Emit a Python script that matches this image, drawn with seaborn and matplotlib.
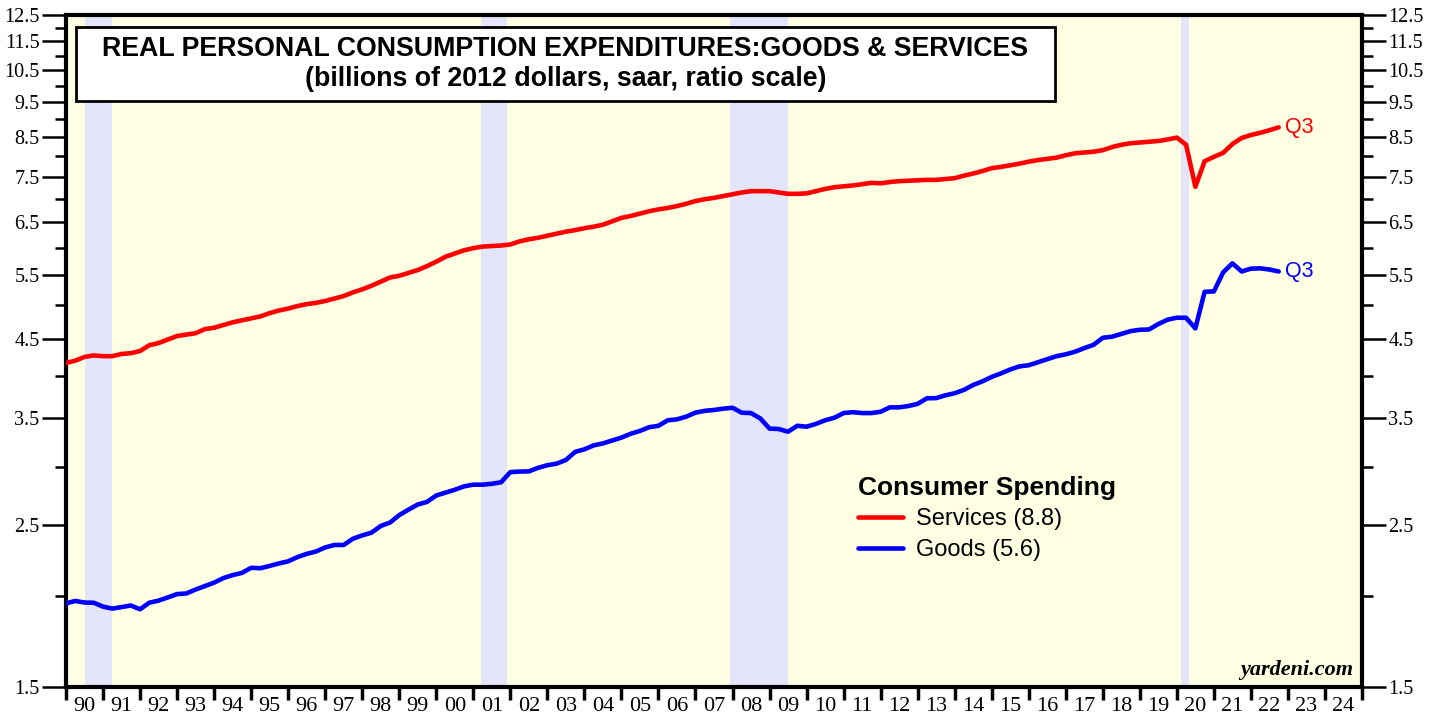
import numpy as np
import pandas as pd
import matplotlib
matplotlib.use("Agg")
import matplotlib.pyplot as plt
import matplotlib.patches as mpatches
from matplotlib.ticker import FixedLocator, NullFormatter, FixedFormatter
import seaborn as sns

# ---------------- data (trillions of 2012 dollars, quarterly, 1990.00 .. 2022.75) ----------------
start_year = 1990.0
services = [
    4.17, 4.20, 4.25, 4.27, 4.26, 4.26, 4.29, 4.30,
    4.33, 4.41, 4.44, 4.49, 4.54, 4.56, 4.58, 4.64,
    4.66, 4.70, 4.74, 4.77, 4.80, 4.83, 4.88, 4.92,
    4.95, 4.99, 5.02, 5.04, 5.07, 5.11, 5.15, 5.21,
    5.26, 5.32, 5.39, 5.46, 5.49, 5.54, 5.59, 5.66,
    5.74, 5.83, 5.89, 5.95, 5.99, 6.02, 6.03, 6.04,
    6.06, 6.12, 6.16, 6.19, 6.23, 6.27, 6.31, 6.34,
    6.38, 6.41, 6.45, 6.52, 6.59, 6.63, 6.68, 6.73,
    6.77, 6.80, 6.84, 6.89, 6.95, 6.99, 7.02, 7.06,
    7.10, 7.14, 7.17, 7.17, 7.17, 7.14, 7.11, 7.11,
    7.12, 7.17, 7.22, 7.26, 7.28, 7.30, 7.33, 7.36,
    7.35, 7.38, 7.40, 7.41, 7.42, 7.43, 7.43, 7.45,
    7.47, 7.53, 7.58, 7.64, 7.71, 7.74, 7.78, 7.82,
    7.87, 7.91, 7.94, 7.97, 8.03, 8.08, 8.10, 8.12,
    8.16, 8.24, 8.30, 8.34, 8.36, 8.38, 8.40, 8.44,
    8.49, 8.30, 7.27, 7.88, 7.99, 8.09, 8.32, 8.48,
    8.56, 8.62, 8.69, 8.77,
]
goods = [
    1.953, 1.968, 1.958, 1.957, 1.933, 1.921, 1.930, 1.940,
    1.917, 1.957, 1.970, 1.990, 2.011, 2.015, 2.040, 2.062,
    2.085, 2.115, 2.135, 2.150, 2.185, 2.182, 2.198, 2.215,
    2.230, 2.260, 2.283, 2.300, 2.330, 2.348, 2.348, 2.395,
    2.420, 2.441, 2.493, 2.520, 2.580, 2.625, 2.668, 2.690,
    2.745, 2.770, 2.795, 2.825, 2.840, 2.840, 2.848, 2.862,
    2.955, 2.960, 2.962, 2.995, 3.020, 3.035, 3.070, 3.150,
    3.175, 3.215, 3.235, 3.265, 3.295, 3.335, 3.365, 3.405,
    3.420, 3.480, 3.490, 3.520, 3.565, 3.585, 3.595, 3.610,
    3.620, 3.564, 3.560, 3.500, 3.390, 3.385, 3.357, 3.420,
    3.410, 3.440, 3.480, 3.508, 3.560, 3.570, 3.560, 3.560,
    3.575, 3.625, 3.625, 3.640, 3.665, 3.730, 3.732, 3.765,
    3.790, 3.830, 3.890, 3.935, 3.990, 4.035, 4.085, 4.125,
    4.140, 4.180, 4.220, 4.260, 4.285, 4.320, 4.370, 4.415,
    4.515, 4.530, 4.570, 4.610, 4.630, 4.635, 4.715, 4.780,
    4.810, 4.808, 4.650, 5.220, 5.225, 5.550, 5.710, 5.565,
    5.615, 5.620, 5.600, 5.565,
]
recessions = [(1990.5, 1991.25), (2001.2, 2001.92), (2007.92, 2009.5), (2020.12, 2020.33)]
series_labels = ["Services (8.8)", "Goods (5.6)"]
legend_title = "Consumer Spending"
title_line1 = "REAL PERSONAL CONSUMPTION EXPENDITURES:GOODS & SERVICES"
title_line2 = "(billions of 2012 dollars, saar, ratio scale)"
year_labels = [f"{y % 100:02d}" for y in range(1990, 2025)]
ytick_major = [1.5, 2.5, 3.5, 4.5, 5.5, 6.5, 7.5, 8.5, 9.5, 10.5, 11.5, 12.5]
ytick_minor = [2, 3, 4, 5, 6, 7, 8, 9, 10, 11, 12]

t = start_year + 0.25 * np.arange(len(services))
df = pd.DataFrame({"t": np.concatenate([t, t]),
                   "value": services + goods,
                   "series": [series_labels[0]] * len(services) + [series_labels[1]] * len(goods)})

# ---------------- figure ----------------
sns.set_style("white")
plt.rcParams["font.family"] = ["Liberation Sans", "DejaVu Sans"]
plt.rcParams["text.color"] = "black"
plt.rcParams["xtick.color"] = "black"
plt.rcParams["ytick.color"] = "black"
plt.rcParams["axes.labelcolor"] = "black"

fig = plt.figure(figsize=(14.37, 7.19), dpi=100)
ax = fig.add_axes([66 / 1437, 1 - 687 / 719, (1362 - 66) / 1437, (687 - 15) / 719])
ax.set_facecolor("#FFFFE3")

for a, b in recessions:
    ax.axvspan(a, b, color="#E4E4FA", lw=0, zorder=0.5)

palette = {series_labels[0]: "#FF0000", series_labels[1]: "#0000FF"}
sns.lineplot(data=df, x="t", y="value", hue="series", palette=palette, lw=3.3,
             ax=ax, legend=False, zorder=3)

ax.set_yscale("log")
ax.set_ylim(1.5, 12.5)
ax.set_xlim(1990, 2025)
ax.set_xlabel("")
ax.set_ylabel("")

ax.yaxis.set_major_locator(FixedLocator(ytick_major))
ax.yaxis.set_major_formatter(FixedFormatter([f"{v:g}" for v in ytick_major]))
ax.yaxis.set_minor_locator(FixedLocator(ytick_minor))
ax.yaxis.set_minor_formatter(NullFormatter())

ax.xaxis.set_major_locator(FixedLocator(np.arange(1990, 2026)))
ax.xaxis.set_major_formatter(NullFormatter())
ax.xaxis.set_minor_locator(FixedLocator(np.arange(1990, 2025) + 0.5))
ax.xaxis.set_minor_formatter(FixedFormatter(year_labels))

serif = ["Liberation Serif", "DejaVu Serif"]
ax.tick_params(axis="y", which="major", direction="out", length=17, width=1.8,
               left=True, right=True, labelleft=True, labelright=True, labelsize=14.5, pad=2,
               colors="black")
ax.tick_params(axis="y", which="minor", direction="out", length=8, width=1.8,
               left=True, right=True, colors="black")
ax.tick_params(axis="x", which="major", direction="out", length=9, width=2.5, bottom=True,
               colors="black")
ax.tick_params(axis="x", which="minor", length=0, labelsize=16, pad=7, colors="black")
for lab in ax.get_yticklabels() + ax.get_xticklabels(minor=True):
    lab.set_family(serif)

for s in ax.spines.values():
    s.set_linewidth(3)
    s.set_color("black")
ax.grid(False)

# title box
ax.add_patch(mpatches.Rectangle((10 / 1296, (687 - 101) / 672), (1055 - 76) / 1296, 74 / 672,
                                transform=ax.transAxes, fc="white", ec="black", lw=2, zorder=5))
ax.text(0.3854, (687 - 49) / 672, title_line1, transform=ax.transAxes, ha="center", va="center",
        fontsize=19.3, fontweight="bold", zorder=6, color="black")
ax.text(0.3854, (687 - 79) / 672, title_line2, transform=ax.transAxes, ha="center", va="center",
        fontsize=19.3, fontweight="bold", zorder=6, color="black")

# legend
handles = [plt.Line2D([], [], color=palette[l], lw=3.3) for l in series_labels]
leg = ax.legend(handles, series_labels, title=legend_title, loc="upper left",
                bbox_to_anchor=((858 - 66) / 1296, (687 - 476) / 672), frameon=False,
                fontsize=17, title_fontproperties={"weight": "bold", "size": 19},
                handlelength=1.9, handletextpad=0.55, borderpad=0, labelspacing=0.36,
                borderaxespad=0)
leg._legend_box.align = "left"
leg._legend_box.sep = 6
for txt in leg.get_texts():
    txt.set_color("black")
leg.get_title().set_color("black")

# end labels
ax.text(2022.93, services[-1], "Q3", color="#FF0000", fontsize=15.5, va="center", ha="left")
ax.text(2022.93, goods[-1], "Q3", color="#0000FF", fontsize=15.5, va="center", ha="left")

ax.text(0.993, 0.01, "yardeni.com", transform=ax.transAxes, ha="right", va="bottom",
        fontsize=16, fontweight="bold", style="italic", family=serif, color="black")

fig.savefig("out.png", dpi=100)
